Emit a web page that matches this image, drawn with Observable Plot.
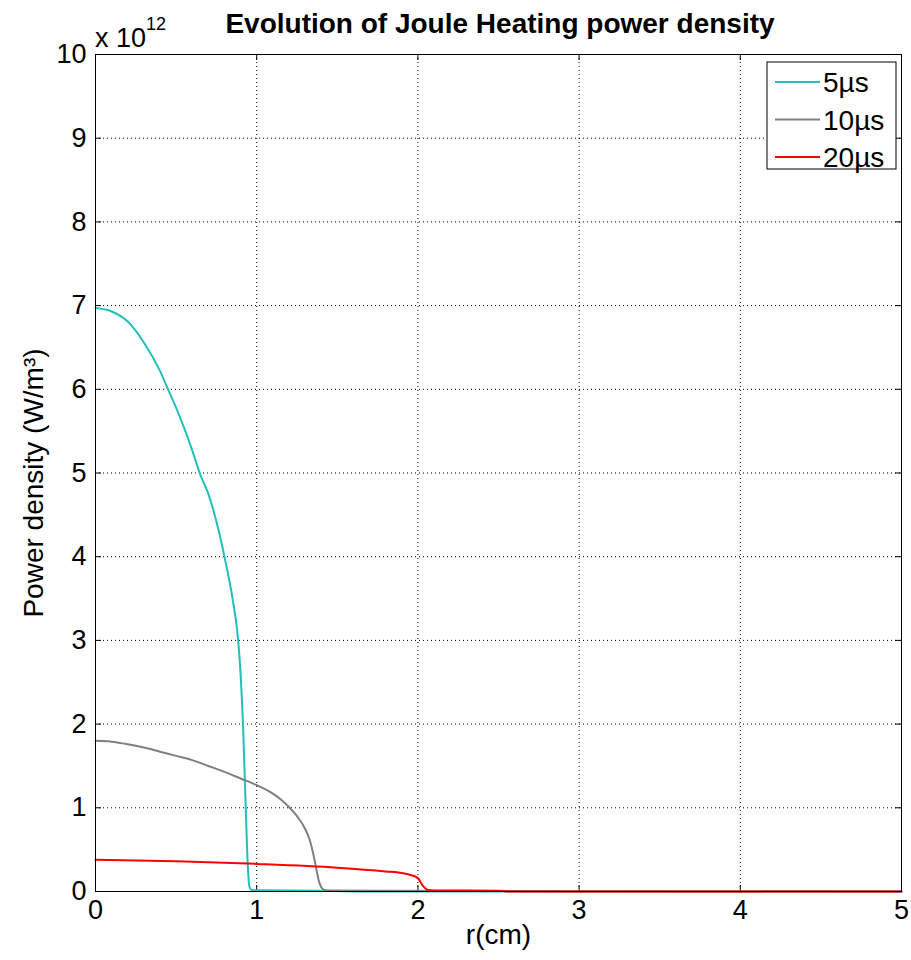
<!DOCTYPE html>
<html>
<head>
<meta charset="utf-8">
<script src="https://cdn.jsdelivr.net/npm/d3@7"></script>
<script src="https://cdn.jsdelivr.net/npm/@observablehq/plot@0.6"></script>
<style>
  html, body { margin: 0; padding: 0; background: #fff; }
  #chart svg { display: block; }
</style>
</head>
<body>
<div id="chart"></div>
<script>
// ---- data ----
const titleText = "Evolution of Joule Heating power density";
const xLabel = "r(cm)";
const yLabel = "Power density (W/m³)";
const seriesNames = ["5µs", "10µs", "20µs"];
const seriesColors = ["#22bfbf", "#808080", "#ff0000"];
const xTicks = [0, 1, 2, 3, 4, 5];
const yTicks = [0, 1, 2, 3, 4, 5, 6, 7, 8, 9, 10];
const yExponent = "12";

// r in cm, power density in units of 1e12 W/m^3
const r5 = [0, 0.1, 0.2, 0.3, 0.4, 0.45, 0.5, 0.6, 0.65, 0.7, 0.75, 0.8, 0.85, 0.885, 0.9, 0.915, 0.932, 0.945, 0.955, 0.97, 1.41, 1.75, 5];
const p5 = [6.97, 6.93, 6.81, 6.56, 6.22, 6.0, 5.78, 5.27, 4.98, 4.75, 4.42, 4.0, 3.5, 3.0, 2.6, 2.0, 1.0, 0.3, 0.06, 0.015, 0.008, 0.0, 0.0];

const r10 = [0, 0.1, 0.2, 0.3, 0.4, 0.5, 0.6, 0.7, 0.8, 0.9, 1.0, 1.1, 1.15, 1.2, 1.25, 1.3, 1.33, 1.345, 1.364, 1.385, 1.41, 1.44, 1.75, 5];
const p10 = [1.80, 1.79, 1.76, 1.72, 1.67, 1.62, 1.57, 1.50, 1.43, 1.35, 1.27, 1.17, 1.10, 1.01, 0.90, 0.75, 0.61, 0.5, 0.33, 0.13, 0.03, 0.012, 0.008, 0.0];

const r20 = [0, 0.5, 1.0, 1.5, 1.8, 1.9, 1.95, 2.0, 2.03, 2.06, 2.1, 2.5, 2.55, 5];
const p20 = [0.38, 0.36, 0.33, 0.285, 0.24, 0.22, 0.20, 0.16, 0.07, 0.02, 0.012, 0.01, 0.0, 0.0];

const seriesR = [r5, r10, r20];
const seriesP = [p5, p10, p20];

const rows = [];
seriesNames.forEach((name, i) => {
  seriesR[i].forEach((r, j) => rows.push({series: name, r, p: seriesP[i][j]}));
});

const W = 911, H = 960;
const mL = 95, mR = 10, mT = 54, mB = 69;
const frameW = W - mL - mR, frameH = H - mT - mB;
const font = "'Liberation Sans', Arial, Helvetica, sans-serif";

const chart = Plot.plot({
  width: W,
  height: H,
  marginLeft: mL,
  marginRight: mR,
  marginTop: mT,
  marginBottom: mB,
  style: {fontFamily: font, fontSize: "27px", color: "#000", background: "#fff"},
  x: {domain: [0, 5], ticks: xTicks},
  y: {domain: [0, 10], ticks: yTicks},
  color: {domain: seriesNames, range: seriesColors},
  marks: [
    // dotted grid
    Plot.ruleX(xTicks.slice(1, -1), {x: d => d, stroke: "#000", strokeWidth: 1, strokeDasharray: "1,3"}),
    Plot.ruleY(yTicks.slice(1, -1), {y: d => d, stroke: "#000", strokeWidth: 1, strokeDasharray: "1,3"}),
    // inward ticks
    Plot.tickX(xTicks, {x: d => d, stroke: "#000", insetTop: frameH - 6}),
    Plot.tickX(xTicks, {x: d => d, stroke: "#000", insetBottom: frameH - 6}),
    Plot.tickY(yTicks, {y: d => d, stroke: "#000", insetRight: frameW - 6}),
    Plot.tickY(yTicks, {y: d => d, stroke: "#000", insetLeft: frameW - 6}),
    // axes labels
    Plot.axisX({ticks: xTicks, tickSize: 0, tickPadding: 8, label: null, fontSize: 27, tickFormat: d => String(d)}),
    Plot.axisY({ticks: yTicks, tickSize: 0, tickPadding: 9, label: null, fontSize: 27, tickFormat: d => String(d)}),
    // data lines
    Plot.line(rows, {x: "r", y: "p", z: "series", stroke: "series", strokeWidth: 2, curve: "monotone-x"}),
    Plot.frame({stroke: "#000", strokeWidth: 1}),
    // axis titles
    Plot.text([xLabel], {frameAnchor: "bottom", dy: 52, text: d => d, fontSize: 28}),
    Plot.text([yLabel], {frameAnchor: "left", textAnchor: "middle", dx: -61, dy: 10, rotate: -90, text: d => d, fontSize: 28})
  ]
});

document.getElementById("chart").appendChild(chart);

const svg = d3.select(chart);

// title
svg.append("text")
  .attr("x", mL + frameW / 2 + 2)
  .attr("y", 33)
  .attr("text-anchor", "middle")
  .attr("font-family", font)
  .attr("font-weight", "bold")
  .attr("font-size", 28)
  .attr("fill", "#000")
  .text(titleText);

// exponent label "x 10^12" above the y axis
const ex = svg.append("text")
  .attr("x", mL)
  .attr("y", mT - 7)
  .attr("text-anchor", "start")
  .attr("font-family", font)
  .attr("font-size", 27)
  .attr("fill", "#000");
ex.append("tspan").text("x 10");
ex.append("tspan").attr("dy", -17).attr("font-size", 18).text(yExponent);

// legend box
const lg = svg.append("g").attr("font-family", font).attr("font-size", 28).attr("text-anchor", "start");
const lgX = 767, lgY = 62, lgW = 129, lgH = 107;
lg.append("rect").attr("x", lgX).attr("y", lgY).attr("width", lgW).attr("height", lgH)
  .attr("fill", "#fff").attr("stroke", "#000").attr("stroke-width", 1);
seriesNames.forEach((name, i) => {
  const cy = lgY + 20 + i * 37.5;
  lg.append("line").attr("x1", lgX + 8).attr("x2", lgX + 53).attr("y1", cy).attr("y2", cy)
    .attr("stroke", seriesColors[i]).attr("stroke-width", 2);
  lg.append("text").attr("x", lgX + 56).attr("y", cy).attr("dy", "0.36em").attr("fill", "#000").text(name);
});
</script>
</body>
</html>
